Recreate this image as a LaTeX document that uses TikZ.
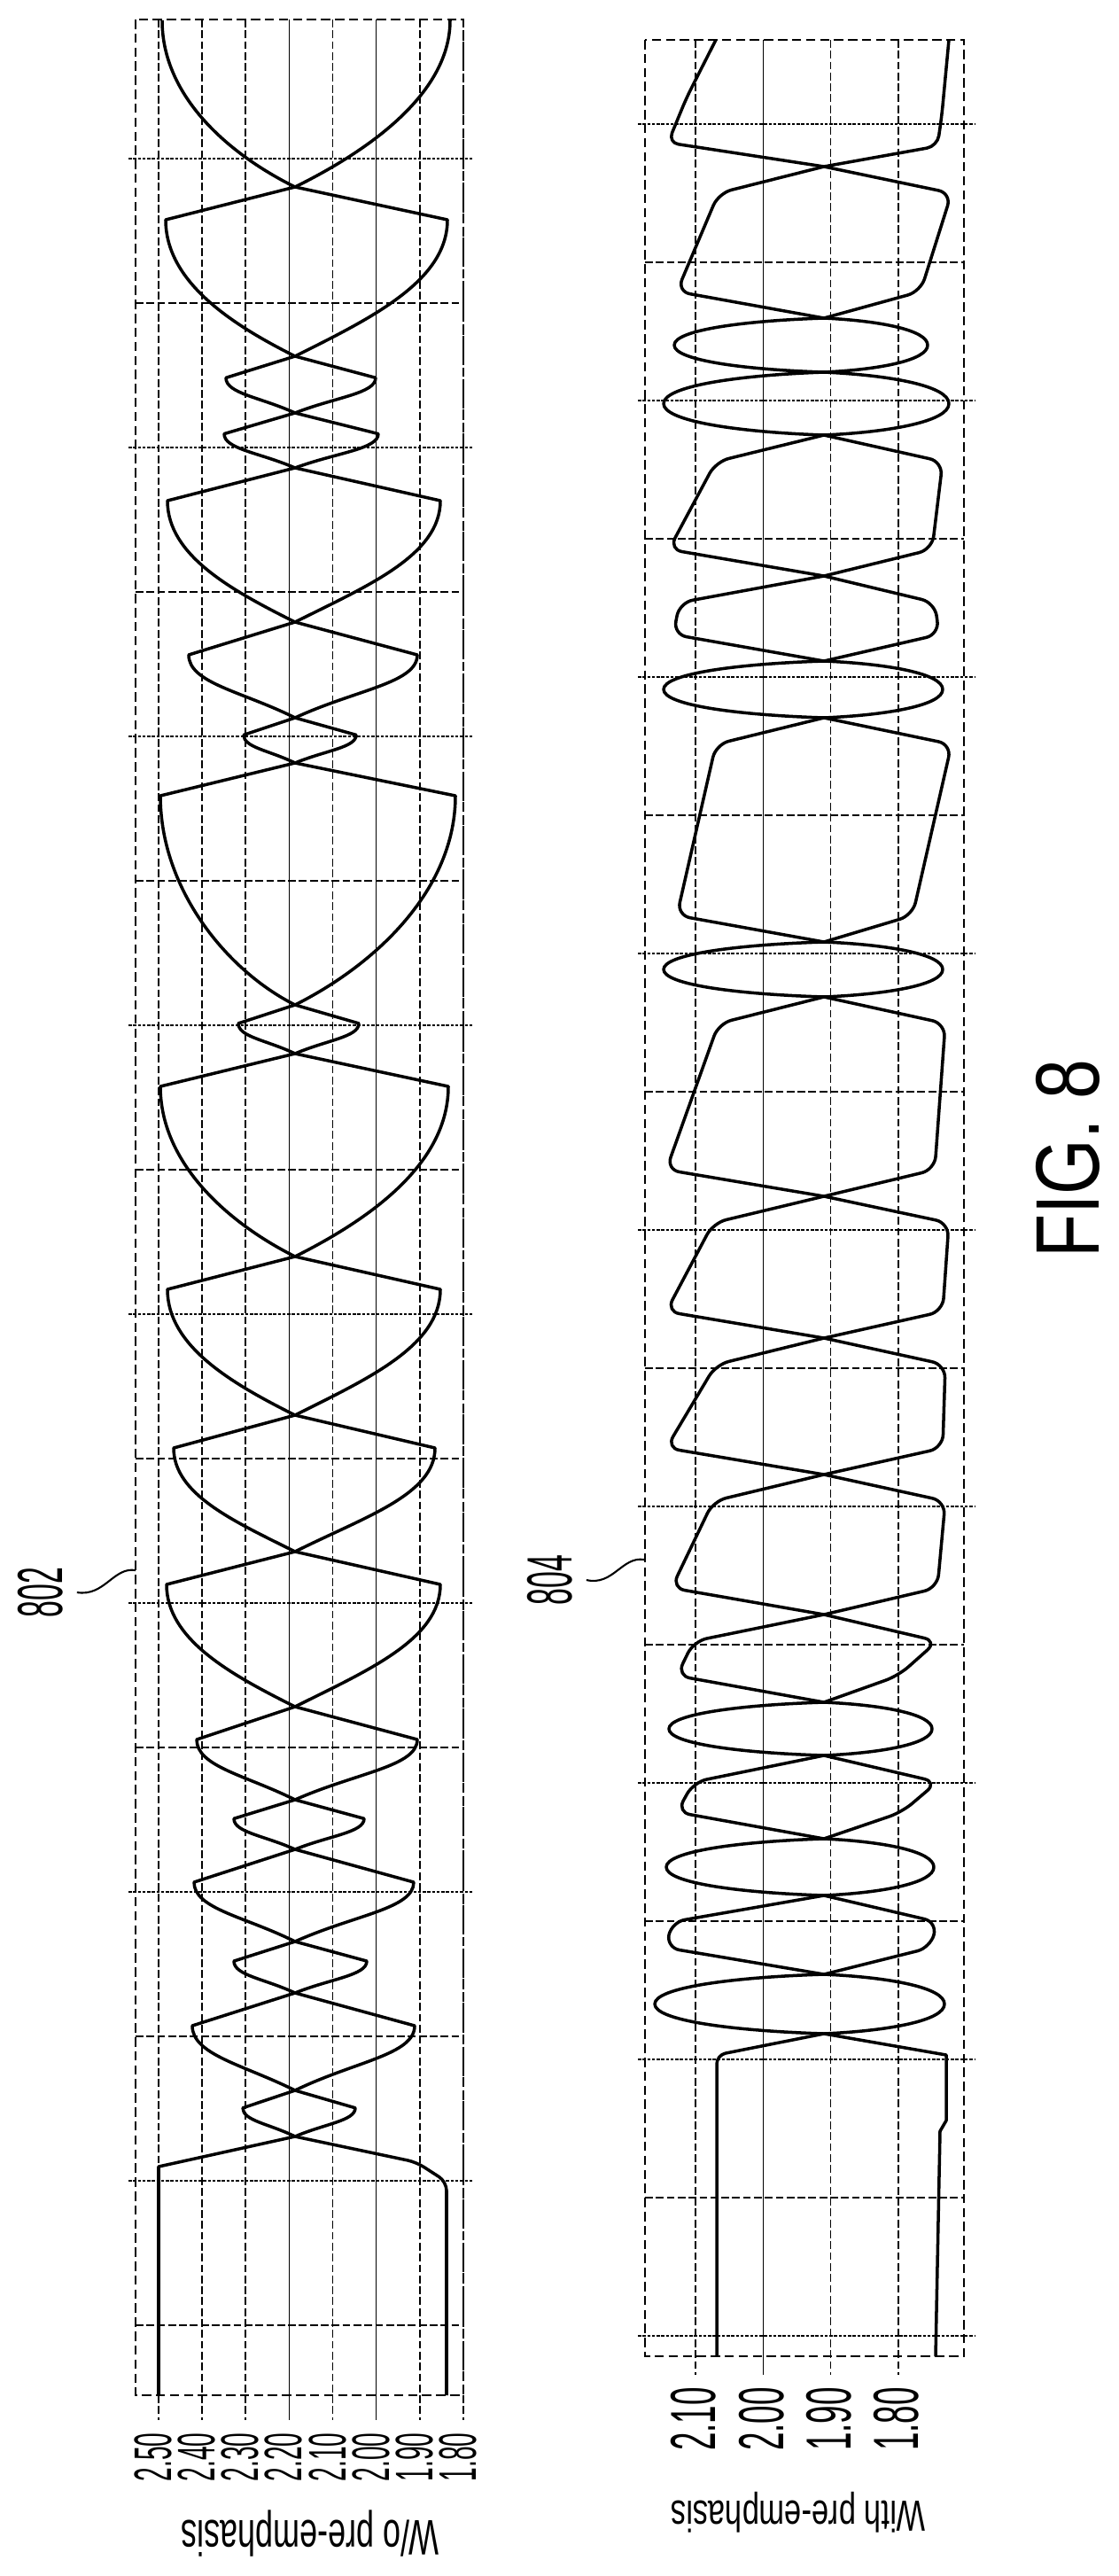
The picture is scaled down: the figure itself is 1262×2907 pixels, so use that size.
\documentclass[tikz,border=0pt]{standalone}
\usepackage{fontspec}
\setmainfont{Liberation Sans}

\tikzset{
  wave/.style={line width=2pt, line join=round},
  gridline/.style={line width=0.9pt},
  griddash/.style={line width=0.9pt, dash pattern=on 5pt off 2pt},
  gridmain/.style={line width=1.3pt, dash pattern=on 2pt off 1pt},
  frame/.style={line width=1.6pt, dash pattern=on 6pt off 3pt},
  leader/.style={line width=1.2pt},
}

% one bit cell of the plain eye: both traces, corner near the top crossing
\newcommand{\eyeseg}[4]{%
  \pgfmathsetmacro\segd{min(37,0.38*(#2-#1))}%
  \pgfmathsetmacro\ye{#1+\segd}%
  \pgfmathsetmacro\Lc{#2-\ye}%
  \foreach \xs in {#3,#4}{%
    \pgfmathsetmacro\dx{\xs-333}%
    \pgfmathsetmacro\pax{333+0.5*\dx}%
    \pgfmathsetmacro\pay{#2-min(0.25*abs(\dx),0.45*\Lc)}%
    \pgfmathsetmacro\pby{\ye+0.45*\Lc}%
    \draw[wave] (333,#2) .. controls (\pax,\pay) and (\xs,\pby) .. (\xs,\ye) -- (333,#1);
  }}

% long bit cell of the pre-emphasis eye
\newcommand{\boxseg}[6]{%
  \pgfmathsetmacro\bo{min(30,0.42*(#2-#1))}%
  \draw[wave, rounded corners=0.3cm] (930,#2) -- (#4,{#2-\bo}) -- (#3,{#1+\bo}) -- (930,#1);
  \draw[wave, rounded corners=0.3cm] (930,#2) -- (#6,{#2-\bo}) -- (#5,{#1+\bo}) -- (930,#1);
}

% short bit cell of the pre-emphasis eye
\newcommand{\lensseg}[4]{%
  \pgfmathsetmacro\ym{0.5*(#1+#2)}%
  \pgfmathsetmacro\hh{0.5*(#2-#1)}%
  \foreach \xs in {#3,#4}{%
    \pgfmathsetmacro\px{930+0.55*(\xs-930)}%
    \draw[wave] (930,#2) .. controls (\px,{#2-0.1*\hh}) and (\xs,{\ym+0.55*\hh}) .. (\xs,\ym)
      .. controls (\xs,{\ym-0.55*\hh}) and (\px,{#1+0.1*\hh}) .. (930,#1);
  }}

\begin{document}
\begin{tikzpicture}[x=0.02cm, y=-0.02cm]
\useasboundingbox (0,0) rectangle (1262,2907);

% ---- grid, plot without pre-emphasis
\foreach \k/\st in {0/griddash,1/griddash,2/griddash,3/gridline,4/griddash,5/gridline,6/griddash,7/griddash}
  \draw[\st] ({179+49.14*\k},22) -- ({179+49.14*\k},2731);
\foreach \k in {0,2,...,14}
  \draw[gridmain] (145,{179+163*\k}) -- (535,{179+163*\k});
\foreach \k in {1,3,...,15}
  \draw[griddash] (153,{179+163*\k}) -- (523,{179+163*\k});
\draw[frame] (153,22) rectangle (523,2703);

% ---- grid, plot with pre-emphasis
\foreach \k/\st in {0/griddash,1/gridline,2/griddash,3/griddash}
  \draw[\st] ({785+76.3*\k},45) -- ({785+76.3*\k},2680);
\foreach \k in {0,2,...,16}
  \draw[gridmain] (720,{140+156*\k}) -- (1100,{140+156*\k});
\foreach \k in {1,3,...,15}
  \draw[griddash] (728,{140+156*\k}) -- (1088,{140+156*\k});
\draw[frame] (728,45) rectangle (1088,2659);

% ---- traces without pre-emphasis
\draw[wave] (333,211) .. controls (260,175) and (183,110) .. (183,23);
\draw[wave] (333,211) .. controls (406,175) and (508,110) .. (508,23);
\foreach \ya/\yb/\xl/\xr in {211/402/187/505, 402/466/255/424, 466/528/253/427,
    528/702/189/497, 702/810/213/471, 810/861/275/402, 861/1134/181/514,
    1134/1189/269/405, 1189/1418/181/506, 1418/1597/189/497, 1597/1751/196/491,
    1751/1926/188/497, 1926/2031/222/471, 2031/2087/264/411, 2087/2191/219/467,
    2191/2249/264/414, 2249/2359/217/468, 2359/2411/274/401}
  \eyeseg{\ya}{\yb}{\xl}{\xr};
\draw[wave] (333,2411) -- (179,2445) -- (179,2703);
\draw[wave, rounded corners=0.2cm] (333,2411) -- (470,2440) -- (504,2462) -- (504,2703);

% ---- traces with pre-emphasis
\draw[wave, rounded corners=0.24cm] (808,45) -- (775,110) -- (754,161) -- (930,188);
\draw[wave, rounded corners=0.24cm] (1071,45) -- (1063,130) -- (1058,165) -- (930,188);
\foreach \ya/\yb/\lt/\lb/\rt/\rb in {188/359/811/764/1074/1039, 491/650/808/755/1064/1052,
    650/746/767/760/1055/1060, 810/1063/808/764/1074/1030, 1125/1350/811/752/1067/1055,
    1350/1510/805/752/1071/1064, 1510/1664/808/752/1067/1064, 1664/1822/805/758/1067/1058,
    1822/1921/783/764/1058/1014, 1981/2075/783/764/1058/1018, 2139/2228/758/752/1058/1050}
  \boxseg{\ya}{\yb}{\lt}{\lb}{\rt}{\rb};
\foreach \ya/\yb/\xl/\xr in {359/420/761/1047, 420/491/749/1071, 746/810/749/1064,
    1063/1125/749/1064, 1921/1981/755/1052, 2075/2139/752/1054, 2228/2295/739/1066}
  \lensseg{\ya}{\yb}{\xl}{\xr};
\draw[wave, rounded corners=0.2cm] (930,2295) -- (809,2319) -- (809,2659);
\draw[wave] (930,2295) -- (1068,2319) -- (1068,2393) -- (1061,2405) -- (1056,2659);

% ---- axis labels
\foreach \v [count=\i from 0] in {2.50,2.40,2.30,2.20,2.10,2.00,1.90,1.80}
  \node[rotate=90, inner sep=0pt, font=\fontsize{34}{36}\selectfont] (lab\i)
    at ({173+49.14*\i},2773) {\scalebox{0.47}[1]{\v}};
\foreach \v [count=\i from 0] in {2.10,2.00,1.90,1.80}
  \node[rotate=90, inner sep=0pt, font=\fontsize{41}{43}\selectfont] (blab\i)
    at ({783+76.3*\i},2730) {\scalebox{0.51}[1]{\v}};

\node[rotate=180, inner sep=0pt, font=\fontsize{32}{34}\selectfont] (title1)
  at (350,2859) {\scalebox{0.64}[1]{W/o pre-emphasis}};
\node[rotate=180, inner sep=0pt, font=\fontsize{28}{30}\selectfont] (title2)
  at (901,2835) {\scalebox{0.7}[1]{With pre-emphasis}};

% ---- reference numerals
\node[rotate=90, inner sep=0pt, font=\fontsize{41}{43}\selectfont] (ref802)
  at (46,1797) {\scalebox{0.47}[1]{802}};
\node[rotate=90, inner sep=0pt, font=\fontsize{41}{43}\selectfont] (ref804)
  at (621,1783) {\scalebox{0.47}[1]{804}};
\coordinate (tip802) at (153,1772);
\coordinate (tip804) at (727,1760);
\draw[leader] ([xshift=0.3cm]ref802.south) .. controls (118,1802) and (128,1768) .. (tip802);
\draw[leader] ([xshift=0.3cm]ref804.south) .. controls (692,1790) and (702,1756) .. (tip804);

\node[rotate=90, inner sep=0pt, font=\fontsize{58}{60}\selectfont] (fig)
  at (1205,1308) {\scalebox{0.79}[1]{FIG. 8}};
\end{tikzpicture}
\end{document}
